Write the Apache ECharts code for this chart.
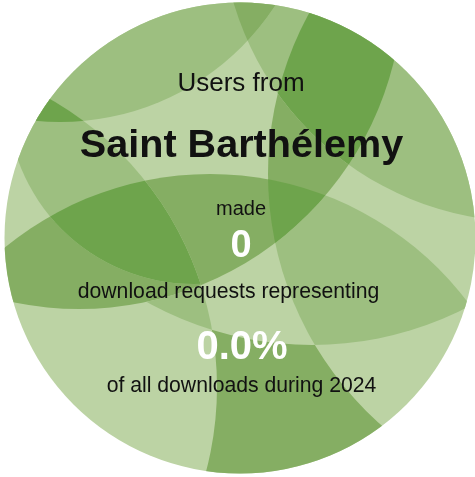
<!DOCTYPE html>
<html><head><meta charset="utf-8">
<script src="https://cdn.jsdelivr.net/npm/echarts@6/dist/echarts.min.js"></script>
<style>html,body{margin:0;padding:0;background:#fff}#c{width:475px;height:477px}</style>
</head><body><div id="c"></div>
<script>
// ---- data ----
const country = 'Saint Barthélemy';
const downloadCount = 0;
const downloadShare = 0.0;
const year = 2024;
const lines = ['Users from', country, 'made', String(downloadCount),
  'download requests representing', downloadShare.toFixed(1) + '%',
  'of all downloads during ' + year];

// ---- decorative layout (not data) ----
const lineLayout = [
  {x: 241, y: 84, size: 26, bold: false, color: '#111'},
  {x: 241.5, y: 146.5, size: 39.6, bold: true, color: '#111'},
  {x: 241, y: 209, size: 20, bold: false, color: '#111'},
  {x: 241, y: 247, size: 38, bold: true, color: '#fff'},
  {x: 228.5, y: 292, size: 21.2, bold: false, color: '#111'},
  {x: 242, y: 348, size: 40, bold: true, color: '#fff'},
  {x: 241.5, y: 386, size: 21.2, bold: false, color: '#111'}
];
const disc = {cx: 240, cy: 238, r: 235.5};
const rings = {
  P: [60, -135, 257], Q: [-115, 387, 332], T: [527, -84, 306], D: [603, 174, 335],
  E: [79, -15, 324], L: [210, 497, 323], H: [312, 5, 340], A: [194, 97, 187]
};
const shade = ['#bcd3a4', '#9dbf80', '#85ae63', '#6ea44c'];
const cells = [
  {inn: ['T'], out: ['P'], s: 1},
  {inn: ['P'], out: [], s: 1},
  {inn: ['P', 'T'], out: [], s: 2},
  {inn: ['Q', 'E', 'A'], out: [], s: 1},
  {inn: ['P', 'Q'], out: [], s: 3},
  {inn: ['T', 'D', 'E'], out: [], s: 3},
  {inn: ['D', 'E'], out: ['T'], s: 2},
  {inn: ['Q', 'E', 'L'], out: ['A'], s: 2},
  {inn: ['Q', 'E', 'L', 'A'], out: [], s: 3},
  {inn: ['E', 'L'], out: ['Q'], s: 2},
  {inn: ['D', 'L', 'H'], out: ['E'], s: 1},
  {inn: ['E', 'L', 'D'], out: [], s: 3},
  {inn: ['Q', 'L', 'H'], out: ['E'], s: 1},
  {inn: ['L'], out: ['Q', 'H', 'D'], s: 2}
];

function clipShape(k, inside) {
  const c = rings[k];
  return inside
    ? {type: 'circle', shape: {cx: c[0], cy: c[1], r: c[2]}}
    : {type: 'ring', shape: {cx: c[0], cy: c[1], r: 4000, r0: c[2]}};
}
function cellEl(cell) {
  let el = {type: 'rect', shape: {x: 0, y: 0, width: 475, height: 477}, style: {fill: shade[cell.s]}};
  const cons = cell.inn.map(k => [k, true]).concat(cell.out.map(k => [k, false]));
  cons.forEach(([k, ins]) => { el = {type: 'group', children: [el], clipPath: clipShape(k, ins)}; });
  return {type: 'group', children: [el],
    clipPath: {type: 'circle', shape: {cx: disc.cx, cy: disc.cy, r: disc.r}}};
}

const chart = echarts.init(document.getElementById('c'), null, {renderer: 'canvas'});
chart.setOption({
  animation: false,
  series: [{
    type: 'custom',
    coordinateSystem: 'none',
    silent: true,
    data: [[0]],
    renderItem: function () {
      return {
        type: 'group',
        children: [{type: 'circle', shape: {cx: disc.cx, cy: disc.cy, r: disc.r}, style: {fill: shade[0]}}]
          .concat(cells.map(cellEl))
      };
    }
  }],
  graphic: lines.map((t, i) => {
    const l = lineLayout[i];
    return {
      type: 'text', x: l.x, y: l.y, z: 100, silent: true,
      style: {
        text: t, fill: l.color, align: 'center', verticalAlign: 'middle',
        font: (l.bold ? 'bold ' : '') + l.size + 'px "Liberation Sans", Arial, sans-serif'
      }
    };
  })
});
</script></body></html>
